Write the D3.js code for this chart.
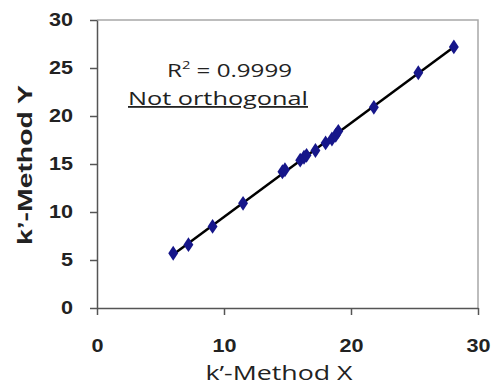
<!DOCTYPE html>
<html>
<head>
<meta charset="utf-8">
<script src="https://cdn.jsdelivr.net/npm/d3@7"></script>
<style>
  body { margin: 0; background: #fff; }
  text { font-family: "Liberation Sans", Arial, sans-serif; fill: #222; }
</style>
</head>
<body>
<svg class="scatter" width="493" height="391"></svg>
<script>
// k' values, method X vs method Y
const methodX = [6.0, 7.2, 9.1, 11.5, 14.6, 14.8, 16.0, 16.3, 16.5, 17.2, 18.0, 18.5, 18.8, 19.0, 21.8, 25.3, 28.1];
const methodY = [5.7, 6.6, 8.5, 10.9, 14.2, 14.4, 15.4, 15.7, 15.9, 16.4, 17.2, 17.6, 18.0, 18.4, 20.9, 24.5, 27.2];
const xTicks = [0, 10, 20, 30];
const yTicks = [0, 5, 10, 15, 20, 25, 30];

const svgWidth = 493;
const svgHeight = 391;

const margin = {top: 20, right: 15, bottom: 83, left: 97};
const width = svgWidth - margin.left - margin.right;
const height = svgHeight - margin.top - margin.bottom;

const points = methodX.map((x, i) => ({x: x, y: methodY[i]}));

const xScale = d3.scaleLinear().domain([0, 30]).range([0, width]);
const yScale = d3.scaleLinear().domain([0, 30]).range([height, 0]);

const svg = d3.select('svg.scatter');
const g = svg.append('g')
  .attr('transform', `translate(${margin.left}, ${margin.top})`);

// frame top + right
g.append('path')
  .attr('d', `M0,0H${width}V${height}`)
  .attr('fill', 'none')
  .attr('stroke', '#a8a8a8')
  .attr('stroke-width', 1.5);

const xAxis = g.append('g')
  .attr('transform', `translate(0, ${height})`)
  .call(d3.axisBottom(xScale).tickValues(xTicks).tickSize(7).tickSizeOuter(0).tickPadding(24));

const yAxis = g.append('g')
  .call(d3.axisLeft(yScale).tickValues(yTicks).tickSize(7).tickSizeOuter(0));

[xAxis, yAxis].forEach(a => {
  a.select('.domain').attr('stroke', '#555').attr('stroke-width', 1.5);
  a.selectAll('.tick line').attr('stroke', '#555').attr('stroke-width', 1.5);
  a.selectAll('.tick text')
    .style('font-size', '18px')
    .style('font-weight', 'bold')
    .style('font-family', '"Liberation Sans", Arial, sans-serif')
    .attr('fill', '#333');
});

// the picture is a little wider than tall: stretch labels sideways
xAxis.selectAll('.tick text').attr('transform', 'scale(1.2, 1)');
yAxis.selectAll('.tick text')
  .attr('x', 0)
  .attr('transform', 'translate(-24, 0) scale(1.2, 1)');

// least squares trend line
const mx = d3.mean(methodX), my = d3.mean(methodY);
const slope = d3.sum(points, d => (d.x - mx) * (d.y - my)) / d3.sum(points, d => (d.x - mx) ** 2);
const intercept = my - slope * mx;
const xr = d3.extent(methodX);

g.append('line')
  .attr('x1', xScale(xr[0]))
  .attr('y1', yScale(slope * xr[0] + intercept))
  .attr('x2', xScale(xr[1]))
  .attr('y2', yScale(slope * xr[1] + intercept))
  .attr('stroke', '#000')
  .attr('stroke-width', 2.5);

g.selectAll('path.pt')
  .data(points)
  .enter()
  .append('path')
  .attr('class', 'pt')
  .attr('d', d3.symbol().type(d3.symbolDiamond).size(64))
  .attr('transform', d => `translate(${xScale(d.x)}, ${yScale(d.y)}) scale(1.15, 1)`)
  .attr('fill', '#16168a');

// annotation
const r2 = g.append('text')
  .attr('x', 70)
  .attr('y', 57)
  .attr('textLength', 125)
  .attr('lengthAdjust', 'spacingAndGlyphs')
  .style('font-family', '"Open Sans", sans-serif')
  .style('font-size', '18px');
r2.append('tspan').text('R');
r2.append('tspan').text('2').attr('dy', -8).style('font-size', '11px');
r2.append('tspan').text(' = 0.9999').attr('dy', 8);

g.append('text')
  .attr('x', 31)
  .attr('y', 85)
  .attr('textLength', 180)
  .attr('lengthAdjust', 'spacingAndGlyphs')
  .style('font-family', '"Open Sans", sans-serif')
  .style('font-size', '18px')
  .style('text-decoration', 'underline')
  .text('Not orthogonal');

// axis titles
svg.append('text')
  .attr('x', 279)
  .attr('y', 380)
  .attr('text-anchor', 'middle')
  .attr('textLength', 147)
  .attr('lengthAdjust', 'spacingAndGlyphs')
  .style('font-family', '"Open Sans", sans-serif')
  .style('font-size', '20px')
  .text('k\u2019-Method X');

svg.append('text')
  .attr('transform', `translate(32, 165) rotate(-90)`)
  .attr('text-anchor', 'middle')
  .attr('textLength', 160)
  .attr('lengthAdjust', 'spacingAndGlyphs')
  .style('font-size', '20px')
  .style('font-weight', 'bold')
  .text('k\u2019-Method Y');
</script>
</body>
</html>
